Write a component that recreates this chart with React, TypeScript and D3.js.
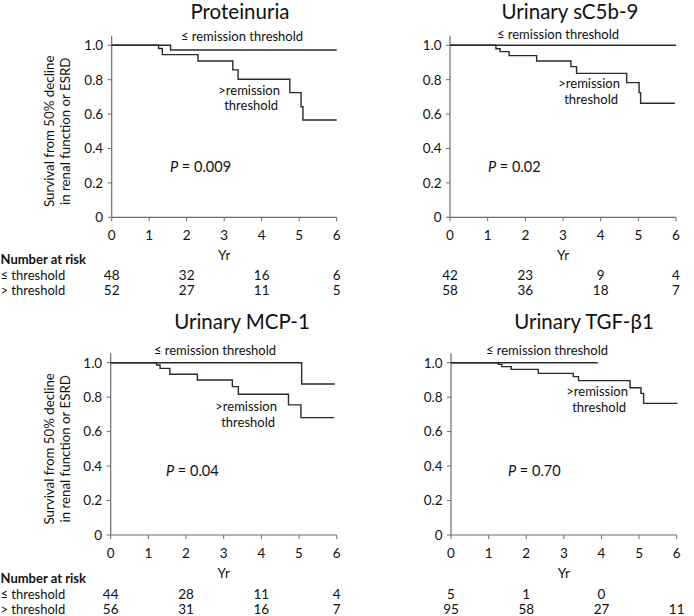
import React from "react";
import * as d3 from "d3";

type Pt = [number, number];

// ---- Data (time in years, survival proportion) ----
const protLow: Pt[] = [[0, 1], [1.57, 0.973], [6, 0.973]];
const protHigh: Pt[] = [[0, 1], [1.25, 0.981], [1.35, 0.946], [2.3, 0.909], [3.23, 0.857], [3.37, 0.803], [4.75, 0.725], [5.05, 0.643], [5.1, 0.566], [6, 0.566]];
const c5b9Low: Pt[] = [[0, 1], [6, 1]];
const c5b9High: Pt[] = [[0, 1], [1.22, 0.98], [1.33, 0.963], [1.57, 0.94], [2.3, 0.909], [3.21, 0.876], [3.36, 0.837], [4.69, 0.783], [5.02, 0.725], [5.06, 0.663], [5.97, 0.663]];
const mcpLow: Pt[] = [[0, 1], [5.07, 0.876], [5.95, 0.876]];
const mcpHigh: Pt[] = [[0, 1], [1.22, 0.987], [1.31, 0.967], [1.57, 0.933], [2.3, 0.9], [3.23, 0.861], [3.39, 0.817], [4.72, 0.755], [5.05, 0.681], [5.93, 0.681]];
const tgfLow: Pt[] = [[0, 1], [3.9, 1]];
const tgfHigh: Pt[] = [[0, 1], [1.26, 0.99], [1.35, 0.977], [1.6, 0.961], [2.32, 0.938], [3.25, 0.919], [3.39, 0.896], [4.76, 0.855], [5.05, 0.822], [5.12, 0.764], [6.02, 0.764]];

const titles = ["Proteinuria", "Urinary sC5b-9", "Urinary MCP-1", "Urinary TGF-\u03B21"];
const pValues = ["0.009", "0.02", "0.04", "0.70"];
const riskYears = [0, 2, 4, 6];
const protRiskLow = ["48", "32", "16", "6"];
const protRiskHigh = ["52", "27", "11", "5"];
const c5b9RiskLow = ["42", "23", "9", "4"];
const c5b9RiskHigh = ["58", "36", "18", "7"];
const mcpRiskLow = ["44", "28", "11", "4"];
const mcpRiskHigh = ["56", "31", "16", "7"];
const tgfRiskLow = ["5", "1", "0", ""];
const tgfRiskHigh = ["95", "58", "27", "11"];
const xTicks = [0, 1, 2, 3, 4, 5, 6];
const yTicks = [0, 0.2, 0.4, 0.6, 0.8, 1.0];

const FONT = "Lato, 'DejaVu Sans', sans-serif";
const AXIS = "#6b6b6b";
const CURVE = "#2a2a2a";

type Panel = {
  title: string; p: string; low: Pt[]; high: Pt[]; riskLow: string[]; riskHigh: string[];
  x0: number; x1: number; y0: number; y1: number;
  titleX: number; titleY: number;
  lowLbl: [number, number]; highLbl: [number, number, number]; pPos: [number, number];
  yTitle: boolean; riskLabels: boolean; riskY: number;
};

const panels: Panel[] = [
  { title: titles[0], p: pValues[0], low: protLow, high: protHigh, riskLow: protRiskLow, riskHigh: protRiskHigh,
    x0: 111.7, x1: 336.7, y0: 217.3, y1: 45.3, titleX: 240, titleY: 18.5,
    lowLbl: [242, 41], highLbl: [280, 94.5, 110], pPos: [170, 171.5], yTitle: true, riskLabels: true, riskY: 264 },
  { title: titles[1], p: pValues[1], low: c5b9Low, high: c5b9High, riskLow: c5b9RiskLow, riskHigh: c5b9RiskHigh,
    x0: 450, x1: 676, y0: 217.3, y1: 45.3, titleX: 570, titleY: 18.5,
    lowLbl: [558, 38.5], highLbl: [620, 87.5, 103.5], pPos: [488, 171.5], yTitle: false, riskLabels: false, riskY: 264 },
  { title: titles[2], p: pValues[2], low: mcpLow, high: mcpHigh, riskLow: mcpRiskLow, riskHigh: mcpRiskHigh,
    x0: 110.7, x1: 336.7, y0: 535, y1: 362.7, titleX: 242, titleY: 328.5,
    lowLbl: [215, 355], highLbl: [277, 410.5, 426.5], pPos: [166, 476], yTitle: true, riskLabels: true, riskY: 583 },
  { title: titles[3], p: pValues[3], low: tgfLow, high: tgfHigh, riskLow: tgfRiskLow, riskHigh: tgfRiskHigh,
    x0: 451, x1: 676.7, y0: 535, y1: 362.7, titleX: 584, titleY: 328.5,
    lowLbl: [547, 355], highLbl: [628, 396, 411.5], pPos: [508, 476], yTitle: false, riskLabels: false, riskY: 583 },
];

function PanelView({ pn }: { pn: Panel }) {
  const x = d3.scaleLinear().domain([0, 6]).range([pn.x0, pn.x1]);
  const y = d3.scaleLinear().domain([0, 1]).range([pn.y0, pn.y1]);
  const line = d3.line<Pt>().x((d) => x(d[0])).y((d) => y(d[1])).curve(d3.curveStepAfter);
  const yMid = (y(0) + y(1)) / 2;
  const xMid = (x(0) + x(6)) / 2;
  return (
    <g fontFamily={FONT}>
      <text x={pn.titleX} y={pn.titleY} fontSize={20.5} textAnchor="middle" fill="#111">{pn.title}</text>
      {/* axes */}
      <line x1={x(0)} x2={x(0)} y1={y(0)} y2={y(1.055)} stroke={AXIS} strokeWidth={1.2} />
      <line x1={x(0)} x2={x(6)} y1={y(0)} y2={y(0)} stroke={AXIS} strokeWidth={1.2} />
      {yTicks.map((t) => (
        <g key={"y" + t}>
          <line x1={x(0) - 4} x2={x(0)} y1={y(t)} y2={y(t)} stroke={AXIS} strokeWidth={1} />
          <text x={x(0) - 8.5} y={y(t)} dy="0.36em" fontSize={13.5} textAnchor="end" fill="#111">
            {t === 0 ? "0" : d3.format(".1f")(t)}
          </text>
        </g>
      ))}
      {xTicks.map((t) => (
        <g key={"x" + t}>
          <line x1={x(t)} x2={x(t)} y1={y(0)} y2={y(0) + 4} stroke={AXIS} strokeWidth={1} />
          <text x={x(t)} y={y(0) + 22.5} fontSize={13.5} textAnchor="middle" fill="#111">{t}</text>
        </g>
      ))}
      <text x={xMid} y={y(0) + 43} fontSize={13.5} textAnchor="middle" fill="#111">Yr</text>
      {pn.yTitle && (
        <g transform={`translate(0, ${yMid})`}>
          <text transform="translate(53.5,0) rotate(-90)" fontSize={13.3} textAnchor="middle" fill="#111">Survival from 50% decline</text>
          <text transform="translate(69.5,0) rotate(-90)" fontSize={13.3} textAnchor="middle" fill="#111">in renal function or ESRD</text>
        </g>
      )}
      {/* curves */}
      <path d={line(pn.low) || ""} fill="none" stroke={CURVE} strokeWidth={1.4} />
      <path d={line(pn.high) || ""} fill="none" stroke={CURVE} strokeWidth={1.4} />
      {/* labels */}
      <text x={pn.lowLbl[0]} y={pn.lowLbl[1]} fontSize={13} textAnchor="middle" fill="#111">{"\u2264 remission threshold"}</text>
      <text x={pn.highLbl[0]} y={pn.highLbl[1]} fontSize={13} textAnchor="end" fill="#111">&gt;remission</text>
      <text x={pn.highLbl[0] - 2} y={pn.highLbl[2]} fontSize={13} textAnchor="end" fill="#111">threshold</text>
      <text x={pn.pPos[0]} y={pn.pPos[1]} fontSize={14.5} fill="#111">
        <tspan fontStyle="italic">P</tspan> = {pn.p}
      </text>
      {/* number at risk */}
      {pn.riskLabels && (
        <g>
          <text x={0.5} y={pn.riskY} fontSize={13} fontWeight="bold" fill="#111">Number at risk</text>
          <text x={0.5} y={pn.riskY + 15.5} fontSize={13} fill="#111">{"\u2264 threshold"}</text>
          <text x={0.5} y={pn.riskY + 31} fontSize={13} fill="#111">{"> threshold"}</text>
        </g>
      )}
      {riskYears.map((t, i) => (
        <g key={"r" + t}>
          <text x={x(t)} y={pn.riskY + 15.5} fontSize={13.5} textAnchor="middle" fill="#111">{pn.riskLow[i]}</text>
          <text x={x(t)} y={pn.riskY + 31} fontSize={13.5} textAnchor="middle" fill="#111">{pn.riskHigh[i]}</text>
        </g>
      ))}
    </g>
  );
}

export default function App() {
  return (
    <svg width={694} height={616} style={{ position: "absolute", left: 0, top: 0, background: "#fff" }}>
      <rect width={694} height={616} fill="#fff" />
      {panels.map((pn, i) => <PanelView key={i} pn={pn} />)}
    </svg>
  );
}
